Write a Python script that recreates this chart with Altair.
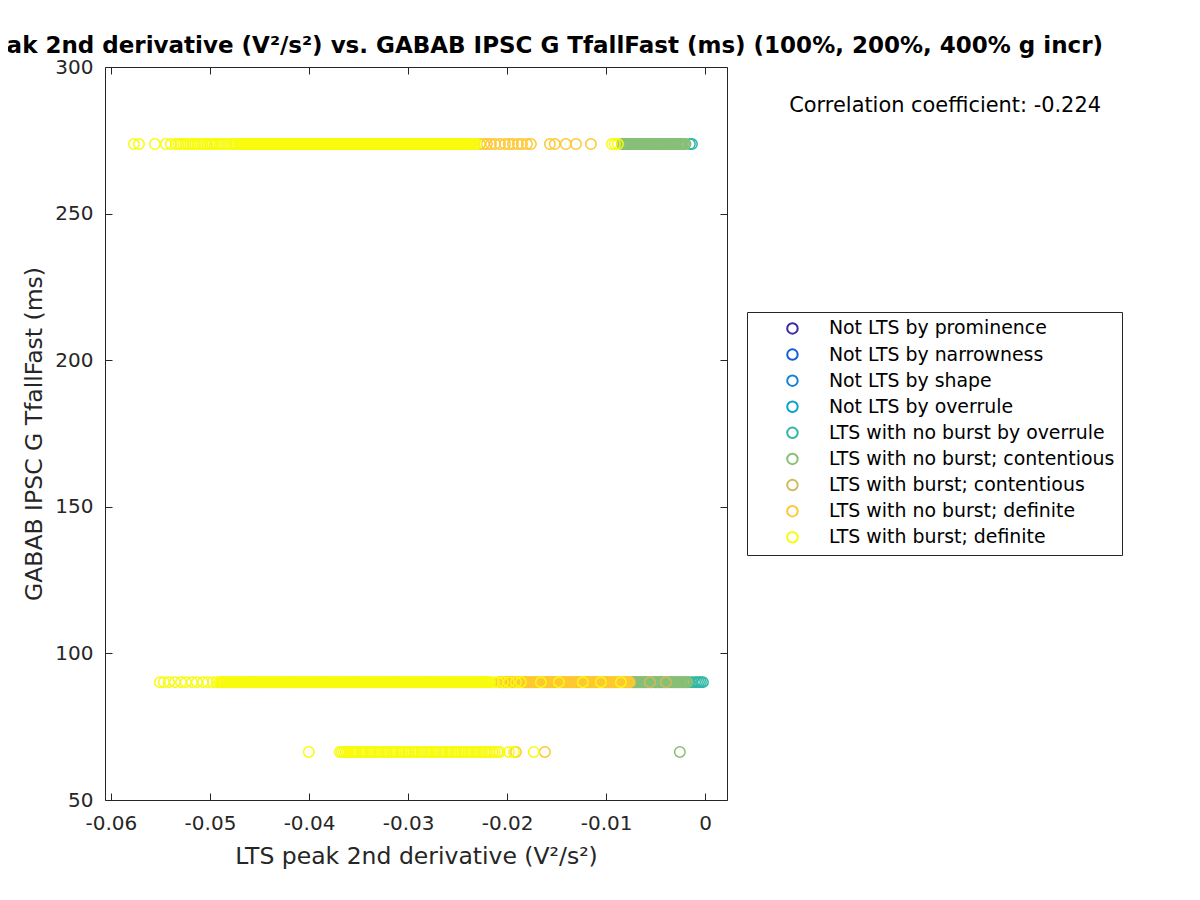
import altair as alt
import pandas as pd

# ---------------- categories ----------------
cat_labels = [
    "Not LTS by prominence",
    "Not LTS by narrowness",
    "Not LTS by shape",
    "Not LTS by overrule",
    "LTS with no burst by overrule",
    "LTS with no burst; contentious",
    "LTS with burst; contentious",
    "LTS with no burst; definite",
    "LTS with burst; definite",
]
cat_colors = ["#3e26a8", "#0f5cdd", "#1481d6", "#06a4ca", "#2eb7a4",
              "#87bf77", "#d1bb59", "#fec832", "#f9fb0e"]

# ---------------- y levels (GABAB IPSC G TfallFast, ms) ----------------
y_top = 273.7
y_mid = 90.2
y_low = 66.4

# ---------------- x values (LTS peak 2nd derivative, units of 1e-5 V^2/s^2) ----------------
top_cat5 = [-790, -155, -134]
top_cat6 = [-842, -829, -816, -801, -790, -775, -762, -750, -736, -722, -710, -697, -683,
            -671, -657, -644, -631, -618, -605, -591, -579, -565, -552, -540, -526, -513,
            -499, -487, -474, -460, -447, -434, -421, -408, -395, -382, -369, -356, -342,
            -330, -317, -303, -291, -277, -265, -251, -238, -225, -212, -199]
top_cat8 = [-2275, -2234, -2204, -2164, -2123, -2073, -2022, -1982, -1941, -1891, -1851,
            -1800, -1760, -1568, -1518, -1407, -1305, -1154]
top_cat9 = [-5768, -5717, -5556, -5445, -5394,
            -5344, -5318, -5296, -5270, -5247, -5220, -5196, -5171, -5149, -5122, -5098,
            -5075, -5049, -5027, -5000, -4978, -4952, -4930, -4905, -4880, -4858, -4833,
            -4808, -4786, -4760, -4740, -4715, -4697,
            -4684, -4670, -4659, -4645, -4631, -4620, -4607, -4592, -4581, -4569, -4554,
            -4543, -4530, -4515, -4503, -4491, -4477, -4466, -4452, -4439, -4426, -4414,
            -4399, -4388, -4374, -4360, -4349, -4336, -4322, -4310, -4297, -4283, -4272,
            -4258, -4245, -4233, -4219, -4207, -4195, -4181, -4168, -4156, -4142, -4130,
            -4117, -4104, -4091, -4078, -4065, -4052, -4040, -4026, -4013, -4001, -3987,
            -3975, -3961, -3949, -3936, -3922, -3910, -3897, -3884, -3871, -3858, -3845,
            -3832, -3820, -3806, -3794, -3780, -3768, -3755, -3741, -3729, -3716, -3703,
            -3690, -3677, -3664, -3652, -3638, -3626, -3612, -3600, -3587, -3574, -3561,
            -3548, -3535, -3522, -3509, -3497, -3483, -3471, -3457, -3445, -3432, -3419,
            -3406, -3393, -3380, -3367, -3354, -3342, -3328, -3316, -3302, -3290, -3277,
            -3264, -3251, -3238, -3225, -3212, -3200, -3186, -3174, -3160, -3148, -3135,
            -3122, -3109, -3096, -3083, -3070, -3057, -3045, -3031, -3019, -3005, -2993,
            -2980, -2967, -2954, -2941, -2928, -2915, -2902, -2890, -2876, -2864, -2850,
            -2838, -2825, -2812, -2799, -2786, -2773, -2760, -2748, -2734, -2722, -2708,
            -2696, -2683, -2670, -2657, -2644, -2631, -2618, -2606, -2592, -2580, -2566,
            -2554, -2541, -2528, -2515, -2502, -2489, -2476, -2464, -2450, -2438, -2424,
            -2412, -2399, -2386, -2373, -2360, -2348, -2330, -2310,
            -942, -911, -881]

mid_cat5 = [-164, -134, -103, -83, -63, -43, -23]
mid_cat6 = [-740, -728, -715, -703, -690, -678, -665, -653, -640, -628, -615, -603, -590,
            -578, -565, -553, -540, -528, -515, -503, -490, -478, -465, -453, -440, -428,
            -415, -403, -390, -378, -365, -353, -340, -328, -315, -303, -290, -278, -265,
            -253, -240, -228, -215, -203, -190, -178]
mid_cat7 = [-558, -397]
mid_cat8 = [-2073, -2060, -2047, -2035, -2021, -2009, -1995, -1982, -1970, -1956, -1944,
            -1930, -1917, -1905, -1891, -1879, -1865, -1852, -1840, -1826, -1814, -1800,
            -1787, -1775, -1761, -1749, -1735, -1722, -1710, -1696, -1684, -1670, -1657,
            -1645, -1631, -1619, -1605, -1592, -1580, -1566, -1554, -1540, -1527, -1515,
            -1501, -1489, -1475, -1462, -1450, -1436, -1424, -1410, -1397, -1385, -1371,
            -1359, -1345, -1332, -1320, -1306, -1294, -1280, -1267, -1255, -1241, -1229,
            -1215, -1202, -1190, -1176, -1164, -1150, -1137, -1125, -1111, -1099, -1085,
            -1072, -1060, -1046, -1034, -1020, -1007, -995, -981, -969, -955, -942, -930,
            -916, -904, -890, -877, -865, -851, -839, -825, -812, -800, -786, -774, -762]
mid_cat9 = [-5505, -5465, -5414, -5354, -5293, -5243, -5182, -5132, -5071, -5021, -4970,
            -4930, -4900,
            -4887, -4874, -4861, -4849, -4835, -4822, -4810, -4796, -4784, -4770, -4757,
            -4745, -4731, -4719, -4705, -4692, -4680, -4666, -4654, -4640, -4627, -4615,
            -4601, -4589, -4575, -4562, -4550, -4536, -4524, -4510, -4497, -4485, -4471,
            -4459, -4445, -4432, -4420, -4406, -4394, -4380, -4367, -4355, -4341, -4329,
            -4315, -4302, -4290, -4276, -4264, -4250, -4237, -4225, -4211, -4199, -4185,
            -4172, -4160, -4146, -4134, -4120, -4107, -4095, -4081, -4069, -4055, -4042,
            -4030, -4016, -4004, -3990, -3977, -3965, -3951, -3939, -3925, -3912, -3900,
            -3886, -3874, -3860, -3847, -3835, -3821, -3809, -3795, -3782, -3770, -3756,
            -3744, -3730, -3717, -3705, -3691, -3679, -3665, -3652, -3640, -3626, -3614,
            -3600, -3587, -3575, -3561, -3549, -3535, -3522, -3510, -3496, -3484, -3470,
            -3457, -3445, -3431, -3419, -3405, -3392, -3380, -3366, -3354, -3340, -3327,
            -3315, -3301, -3289, -3275, -3262, -3250, -3236, -3224, -3210, -3197, -3185,
            -3171, -3159, -3145, -3132, -3120, -3106, -3094, -3080, -3067, -3055, -3041,
            -3029, -3015, -3002, -2990, -2976, -2964, -2950, -2937, -2925, -2911, -2899,
            -2885, -2872, -2860, -2846, -2834, -2820, -2807, -2795, -2781, -2769, -2755,
            -2742, -2730, -2716, -2704, -2690, -2677, -2665, -2651, -2639, -2625, -2612,
            -2600, -2586, -2574, -2560, -2547, -2535, -2521, -2509, -2495, -2482, -2470,
            -2456, -2444, -2430, -2417, -2405, -2391, -2379, -2365, -2352, -2340, -2326,
            -2314, -2300, -2287, -2275, -2261, -2249, -2235, -2222, -2210, -2196, -2184,
            -2172,
            -2133, -2093, -2042, -1982, -1911, -1861,
            -1659, -1477, -1235, -1053, -851]

low_cat6 = [-256]
low_cat8 = [-1911, -1619]
low_cat9 = [-4002,
            -3689, -3671, -3650, -3628, -3610, -3586, -3562, -3540, -3521, -3497, -3470,
            -3451, -3428, -3402, -3380, -3360, -3334, -3311, -3290, -3262, -3240, -3219,
            -3195, -3170, -3148, -3126, -3101, -3077, -3055, -3030, -3007, -2985, -2958,
            -2935, -2911, -2890, -2864, -2840, -2818, -2793, -2770, -2748, -2722, -2700,
            -2676, -2650, -2629, -2605, -2580, -2558, -2532, -2510, -2487, -2463, -2440,
            -2415, -2390, -2368, -2343, -2320, -2298, -2272, -2250, -2224, -2200, -2178,
            -2150, -2125, -2098, -2075,
            -1982, -1931, -1730]

corr_coef = -0.224

# ---------------- ticks & text ----------------
x_ticks = [-0.06, -0.05, -0.04, -0.03, -0.02, -0.01, 0]
y_ticks = [50, 100, 150, 200, 250, 300]
x_domain = [-0.0606, 0.0022]
y_domain = [50, 300]
title_text = "LTS peak 2nd derivative (V²/s²) vs. GABAB IPSC G TfallFast (ms) (100%, 200%, 400% g incr)"
x_title = "LTS peak 2nd derivative (V²/s²)"
y_title = "GABAB IPSC G TfallFast (ms)"

# ---------------- build table (drawn in category order) ----------------
groups = {
    5: [(y_top, top_cat5), (y_mid, mid_cat5)],
    6: [(y_top, top_cat6), (y_mid, mid_cat6), (y_low, low_cat6)],
    7: [(y_mid, mid_cat7)],
    8: [(y_top, top_cat8), (y_mid, mid_cat8), (y_low, low_cat8)],
    9: [(y_top, top_cat9), (y_mid, mid_cat9), (y_low, low_cat9)],
}
rows = []
for c in sorted(groups):
    for yv, xs in groups[c]:
        for xv in xs:
            rows.append({"x": xv / 1e5, "y": yv, "cat": cat_labels[c - 1]})
df = pd.DataFrame(rows)
corr_df = pd.DataFrame({"label": [f"Correlation coefficient: {corr_coef:.3f}"]})

W, H = 622, 733
FONT = "DejaVu Sans"
AX = "#262626"

xscale = alt.Scale(domain=x_domain, nice=False, zero=False)
yscale = alt.Scale(domain=y_domain, nice=False, zero=False)

points = alt.Chart(df).mark_point(shape="circle", filled=False, size=110, strokeWidth=1.5, opacity=1).encode(
    x=alt.X("x:Q", scale=xscale,
            axis=alt.Axis(orient="bottom", values=x_ticks, ticks=False, domain=False, grid=False,
                          labelPadding=13, labelFont=FONT, labelFontSize=20, labelColor=AX,
                          labelExpr="datum.value == 0 ? '0' : '-' + format(abs(datum.value), '.2f')",
                          title=x_title, titlePadding=11, titleFont=FONT, titleFontSize=23.5,
                          titleColor=AX, titleFontWeight="normal")),
    y=alt.Y("y:Q", scale=yscale,
            axis=alt.Axis(orient="left", values=y_ticks, ticks=False, domain=False, grid=False,
                          labelPadding=12, labelFont=FONT, labelFontSize=20, labelColor=AX,
                          format="d", title=y_title, titlePadding=8, titleFont=FONT,
                          titleFontSize=23.5, titleColor=AX, titleFontWeight="normal")),
    stroke=alt.Stroke("cat:N", scale=alt.Scale(domain=cat_labels, range=cat_colors),
                      legend=alt.Legend(title=None, orient="none", legendX=642, legendY=245,
                                        padding=7, strokeColor=AX, fillColor="white",
                                        labelFontSize=18.9, labelColor="black", labelFont=FONT,
                                        symbolType="circle", symbolSize=110, symbolStrokeWidth=2,
                                        symbolFillColor="white", symbolOffset=29, labelOffset=27,
                                        rowPadding=6.1, labelLimit=400)),
)

ticks_a = alt.Chart(df).mark_point(opacity=0).encode(
    x=alt.X("x:Q", scale=xscale,
            axis=alt.Axis(orient="top", offset=-H, values=x_ticks, labels=False, domain=False,
                          grid=False, tickSize=7, tickColor=AX, title=None)),
    y=alt.Y("y:Q", scale=yscale,
            axis=alt.Axis(orient="right", offset=-W, values=y_ticks, labels=False, domain=False,
                          grid=False, tickSize=7, tickColor=AX, title=None)),
)

ticks_b = alt.Chart(df).mark_point(opacity=0).encode(
    x=alt.X("x:Q", scale=xscale,
            axis=alt.Axis(orient="bottom", offset=-H, values=x_ticks, labels=False, domain=False,
                          grid=False, tickSize=7, tickColor=AX, title=None)),
    y=alt.Y("y:Q", scale=yscale,
            axis=alt.Axis(orient="left", offset=-W, values=y_ticks, labels=False, domain=False,
                          grid=False, tickSize=7, tickColor=AX, title=None)),
)

corr_text = alt.Chart(corr_df).mark_text(align="right", baseline="alphabetic", fontSize=20.9,
                                         font=FONT, color="black").encode(
    x=alt.value(996), y=alt.value(44.5), text="label:N")

chart = alt.layer(points, ticks_a, ticks_b, corr_text).resolve_axis(
    x="independent", y="independent"
).properties(
    width=W, height=H,
    background="white",
    autosize=alt.AutoSizeParams(type="none"),
    padding={"left": 97, "top": 59, "right": 461, "bottom": 88},
    title=alt.TitleParams(text=title_text, anchor="end", dx=376, dy=33, offset=14, frame="group",
                          baseline="alphabetic", fontSize=23, fontWeight="bold", font=FONT,
                          color="black"),
).configure_view(stroke=AX, strokeWidth=1)

chart.save("out.html", embed_options={"renderer": "svg", "actions": False})
